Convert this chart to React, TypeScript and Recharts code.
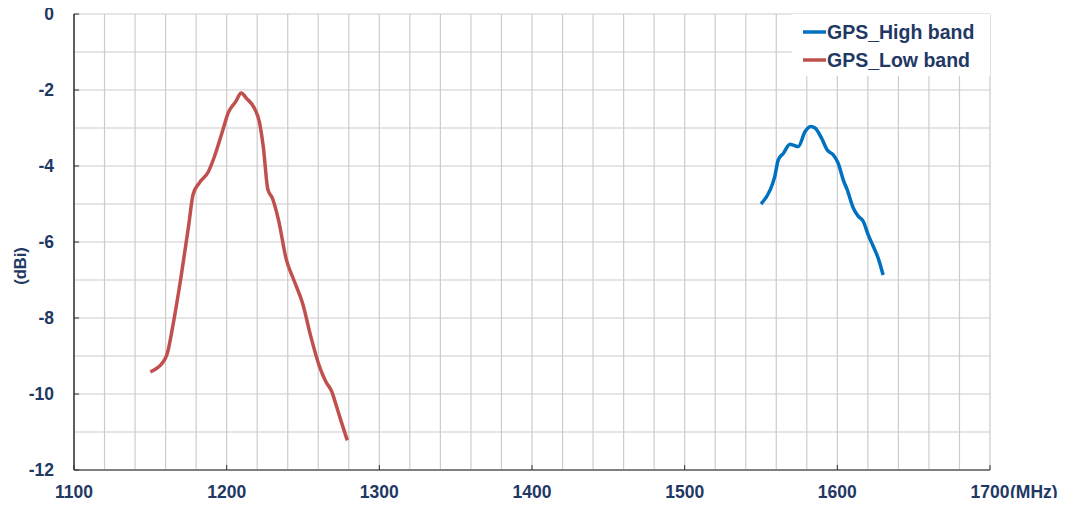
import React from 'react';
import { LineChart, Line, XAxis, YAxis, CartesianGrid, Legend } from 'recharts';

const lowFreq = [1150, 1155, 1158, 1161, 1165, 1170, 1175, 1178, 1182, 1188, 1192, 1197, 1201, 1206, 1209.5, 1213, 1218, 1221.5, 1224, 1227, 1230, 1234, 1239, 1244, 1250, 1255, 1261, 1265, 1269, 1271, 1275, 1279];
const lowGain = [-9.42, -9.3, -9.18, -8.95, -8.15, -6.95, -5.6, -4.75, -4.45, -4.15, -3.75, -3.12, -2.6, -2.3, -2.08, -2.22, -2.47, -2.85, -3.5, -4.62, -4.85, -5.43, -6.45, -7.0, -7.65, -8.47, -9.3, -9.68, -9.95, -10.2, -10.72, -11.22];

const highFreq = [1550, 1556, 1559, 1561.3, 1564.6, 1569, 1571.2, 1574.4, 1578.8, 1582.5, 1585.4, 1589.7, 1593.4, 1597.4, 1600.6, 1603.9, 1606.5, 1610.5, 1613.7, 1617, 1620.3, 1623.6, 1626.8, 1630];
const highGain = [-5.0, -4.63, -4.28, -3.84, -3.67, -3.43, -3.45, -3.49, -3.1, -2.96, -3.0, -3.27, -3.58, -3.71, -3.93, -4.37, -4.63, -5.11, -5.32, -5.46, -5.82, -6.12, -6.43, -6.87];

const xTicks = [1100, 1120, 1140, 1160, 1180, 1200, 1220, 1240, 1260, 1280, 1300, 1320, 1340, 1360, 1380, 1400, 1420, 1440, 1460, 1480, 1500, 1520, 1540, 1560, 1580, 1600, 1620, 1640, 1660, 1680, 1700];
const xLabels = [1100, 1200, 1300, 1400, 1500, 1600, 1700];
const yTicks = [-12, -11, -10, -9, -8, -7, -6, -5, -4, -3, -2, -1, 0];
const yLabels = [-12, -10, -8, -6, -4, -2, 0];

const seriesNames = ['GPS_High band', 'GPS_Low band'];
const seriesColors = ['#0070C0', '#C0504D'];

const lowData = lowFreq.map((f, i) => ({ f, v: lowGain[i] }));
const highData = highFreq.map((f, i) => ({ f, v: highGain[i] }));

const TEXT = '#1F3864';
const FONT = "Arial, 'Liberation Sans', sans-serif";

const XTick = (props: any) => {
  const { x, y, payload } = props;
  const v = payload.value;
  if (!xLabels.includes(v)) return null;
  const axisY = y - 16;
  return (
    <g>
      <line x1={x} y1={axisY} x2={x} y2={axisY - 5} stroke="#333" strokeWidth={1} />
      <text x={x} y={y} dy="0.71em" textAnchor="middle" fill={TEXT} fontSize={17.5} fontWeight="bold" fontFamily={FONT}>
        {v}
      </text>
    </g>
  );
};

const YTick = (props: any) => {
  const { x, y, payload } = props;
  const v = payload.value;
  if (!yLabels.includes(v)) return null;
  const axisX = x + 20;
  return (
    <g>
      <line x1={axisX} y1={y} x2={axisX + 5} y2={y} stroke="#333" strokeWidth={1} />
      <text x={x} y={y} dy="0.35em" textAnchor="end" fill={TEXT} fontSize={17.5} fontWeight="bold" fontFamily={FONT}>
        {v}
      </text>
    </g>
  );
};

const LegendBox = () => (
  <svg width={198} height={62} style={{ display: 'block', background: '#fff' }}>
    {seriesNames.map((n, i) => (
      <g key={n}>
        <line x1={11} x2={34} y1={18 + i * 28} y2={18 + i * 28} stroke={seriesColors[i]} strokeWidth={3.5} />
        <text x={35} y={25 + i * 28} fill={TEXT} fontSize={19.5} fontWeight="bold" fontFamily={FONT}>
          {n}
        </text>
      </g>
    ))}
  </svg>
);

export default function App() {
  return (
    <div style={{ margin: -8 }}>
      <LineChart width={1067} height={506} margin={{ top: 14, right: 77, bottom: 6, left: 0 }}>
        <CartesianGrid stroke="#CCCCCC" strokeWidth={1.2} />
        <XAxis
          type="number"
          dataKey="f"
          domain={[1100, 1700]}
          ticks={xTicks}
          interval={0}
          height={30}
          tickSize={6}
          tickMargin={10}
          tickLine={false}
          tick={<XTick />}
          axisLine={{ stroke: '#808080', strokeWidth: 2 }}
          allowDataOverflow
          label={{
            content: (p: any) => {
              const vb = p.viewBox;
              return (
                <text x={vb.x + vb.width + 20} y={vb.y + 28} textAnchor="start" fill={TEXT} fontSize={17.5} fontWeight="bold" fontFamily={FONT}>
                  (MHz)
                </text>
              );
            },
          }}
        />
        <YAxis
          type="number"
          domain={[-12, 0]}
          ticks={yTicks}
          interval={0}
          width={74}
          tickSize={6}
          tickMargin={14}
          tickLine={false}
          tick={<YTick />}
          axisLine={{ stroke: '#333', strokeWidth: 1.5 }}
          allowDataOverflow
          label={{
            content: () => (
              <text x={20} y={266} dy="0.35em" textAnchor="middle" transform="rotate(-90 20 266)" fill={TEXT} fontSize={16.5} fontWeight="bold" fontFamily={FONT}>
                (dBi)
              </text>
            ),
          }}
        />
        <Line data={highData} dataKey="v" name={seriesNames[0]} type="monotone" stroke={seriesColors[0]} strokeWidth={3.5} dot={false} activeDot={false} isAnimationActive={false} />
        <Line data={lowData} dataKey="v" name={seriesNames[1]} type="monotone" stroke={seriesColors[1]} strokeWidth={3.5} dot={false} activeDot={false} isAnimationActive={false} />
        <Legend
          layout="vertical"
          align="center"
          verticalAlign="middle"
          content={<LegendBox />}
          wrapperStyle={{ position: 'absolute', left: 792, top: 14, width: 198, height: 62 }}
        />
      </LineChart>
    </div>
  );
}
